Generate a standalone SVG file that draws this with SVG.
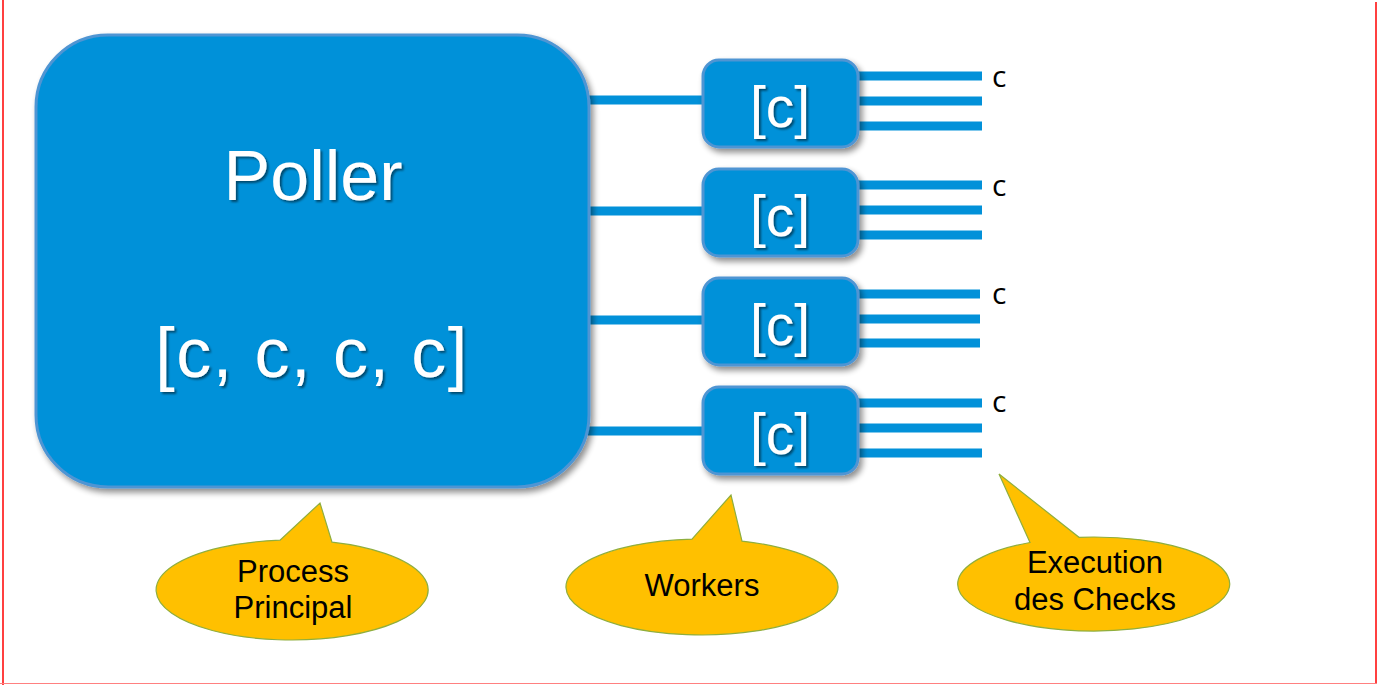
<svg xmlns="http://www.w3.org/2000/svg" width="1377" height="685" viewBox="0 0 1377 685">
<defs>
<filter id="sh" x="-10%" y="-10%" width="130%" height="130%">
<feGaussianBlur in="SourceAlpha" stdDeviation="3"/>
<feOffset dx="3" dy="4"/>
<feComponentTransfer><feFuncA type="linear" slope="0.45"/></feComponentTransfer>
<feMerge><feMergeNode/><feMergeNode in="SourceGraphic"/></feMerge>
</filter>
<filter id="tsh" x="-10%" y="-10%" width="130%" height="130%">
<feGaussianBlur in="SourceAlpha" stdDeviation="1.2"/>
<feOffset dx="2" dy="2"/>
<feComponentTransfer><feFuncA type="linear" slope="0.5"/></feComponentTransfer>
<feMerge><feMergeNode/><feMergeNode in="SourceGraphic"/></feMerge>
</filter>
</defs>
<style>
.box{fill:#0291d9;stroke:#4f95d3;stroke-width:3}
.wt{fill:#ffffff;font-family:"Liberation Sans",Arial,sans-serif;text-anchor:middle}
.ln{stroke:#0291d9;stroke-width:9;fill:none}
.cl{fill:#000;font-family:"Open Sans","DejaVu Sans",sans-serif;font-size:30px}
.bub{fill:#ffc000;stroke:#8fae3e;stroke-width:1.2}
.bt{fill:#000;font-family:"Liberation Sans",Arial,sans-serif;font-size:31px;text-anchor:middle}
</style>
<rect x="0" y="0" width="1377" height="685" fill="#ffffff"/>
<g id="frame" fill="none">
<line x1="3" y1="0" x2="3" y2="685" stroke="#ff0000" stroke-width="1.5"/>
<line x1="1376" y1="2" x2="1376" y2="683" stroke="#ff0000" stroke-width="1.5"/>
<line x1="0" y1="683.5" x2="1377" y2="683.5" stroke="#ff8080" stroke-width="1"/>
</g>
<g id="connectors">
<line class="ln" x1="588" y1="100" x2="705" y2="100"/>
<line class="ln" x1="588" y1="211" x2="705" y2="211"/>
<line class="ln" x1="588" y1="320" x2="705" y2="320"/>
<line class="ln" x1="588" y1="431" x2="705" y2="431"/>
<line class="ln" x1="855" y1="76" x2="982" y2="76"/>
<line class="ln" x1="855" y1="101" x2="982" y2="101"/>
<line class="ln" x1="855" y1="126" x2="982" y2="126"/>
<line class="ln" x1="855" y1="185" x2="982" y2="185"/>
<line class="ln" x1="855" y1="210" x2="982" y2="210"/>
<line class="ln" x1="855" y1="235" x2="982" y2="235"/>
<line class="ln" x1="855" y1="294" x2="980" y2="294"/>
<line class="ln" x1="855" y1="319" x2="980" y2="319"/>
<line class="ln" x1="855" y1="343" x2="980" y2="343"/>
<line class="ln" x1="855" y1="403" x2="982" y2="403"/>
<line class="ln" x1="855" y1="428" x2="982" y2="428"/>
<line class="ln" x1="855" y1="453" x2="982" y2="453"/>
</g>
<g id="poller">
<rect class="box" x="36" y="35" width="553" height="452" rx="72" ry="72" filter="url(#sh)"/>
<text class="wt" x="313" y="200" font-size="70" filter="url(#tsh)">Poller</text>
<text class="wt" x="312" y="377" font-size="70" letter-spacing="1.5" filter="url(#tsh)">[c, c, c, c]</text>
</g>
<g id="worker1">
<rect class="box" x="703" y="60" width="155" height="87" rx="16" ry="16" filter="url(#sh)"/>
<text class="wt" x="780" y="127" font-size="57" filter="url(#tsh)">[c]</text>
</g>
<g id="worker2">
<rect class="box" x="703" y="169" width="155" height="87" rx="16" ry="16" filter="url(#sh)"/>
<text class="wt" x="780" y="236" font-size="57" filter="url(#tsh)">[c]</text>
</g>
<g id="worker3">
<rect class="box" x="703" y="278" width="155" height="87" rx="16" ry="16" filter="url(#sh)"/>
<text class="wt" x="780" y="345" font-size="57" filter="url(#tsh)">[c]</text>
</g>
<g id="worker4">
<rect class="box" x="703" y="387" width="155" height="87" rx="16" ry="16" filter="url(#sh)"/>
<text class="wt" x="780" y="454" font-size="57" filter="url(#tsh)">[c]</text>
</g>
<g id="checks">
<text class="cl" x="992" y="87">c</text>
<text class="cl" x="992" y="196">c</text>
<text class="cl" x="992" y="304">c</text>
<text class="cl" x="992" y="412">c</text>
</g>
<g id="callout-process">
<path class="bub" d="M280,540.2 L320,503 L332,542.2 A136,50 0 1 1 280,540.2 Z"/>
<text class="bt" x="293" y="582">Process</text>
<text class="bt" x="293" y="618">Principal</text>
</g>
<g id="callout-workers">
<path class="bub" d="M692,539.1 L731,495 L742,541.1 A136,48 0 1 1 692,539.1 Z"/>
<text class="bt" x="702" y="596">Workers</text>
</g>
<g id="callout-checks">
<path class="bub" d="M1030,542.5 L999,474 L1079,537.3 A136,47 0 1 1 1030,542.5 Z"/>
<text class="bt" x="1095" y="573">Execution</text>
<text class="bt" x="1095" y="610">des Checks</text>
</g>
</svg>
